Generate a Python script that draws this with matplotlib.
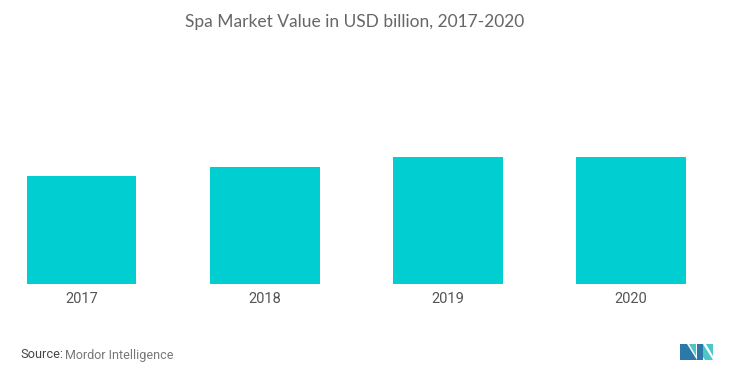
import matplotlib
matplotlib.use("Agg")
import matplotlib.pyplot as plt
from matplotlib.patches import Polygon

years = ["2017", "2018", "2019", "2020"]
values = [108.3, 117.3, 126.7, 127.3]

W, H = 730, 382
fig = plt.figure(figsize=(W / 100, H / 100), dpi=100)
fig.patch.set_facecolor("white")

ax = fig.add_axes([0, 1 - 284 / H, 1, 224 / H])
x = range(len(years))
ax.bar(x, values, width=0.6, color="#00CED1")
ax.set_xlim(-81.5 / 183.2, (W - 81.5) / 183.2)
ax.set_ylim(0, 224)
ax.set_xticks(list(x))
ax.set_xticklabels(years, fontsize=10.5, color="#555555", family="Roboto")
ax.tick_params(axis="x", length=0, pad=6)
ax.set_yticks([])
for s in ax.spines.values():
    s.set_visible(False)

fig.text(355 / W, 1 - 22 / H, "Spa Market Value in USD billion, 2017-2020",
         ha="center", va="center", fontsize=12.5, color="#666666", family="Lato")

fig.text(20 / W, 1 - 355 / H, "Source:", ha="left", va="center",
         fontsize=9.2, color="#444444", family="Roboto")
fig.text(65 / W, 1 - 355 / H, "Mordor Intelligence", ha="left", va="center",
         fontsize=9.0, color="#777777", family="Roboto")

# logo
def P(pts, c):
    fig.patches.append(Polygon([(px / W, 1 - py / H) for px, py in pts],
                               closed=True, transform=fig.transFigure,
                               facecolor=c, edgecolor="none"))
dark, teal = "#2C78A8", "#4CC6C8"
P([(680, 344), (687, 344), (697, 360), (680, 360)], dark)
P([(689, 344), (696, 344), (696, 356)], teal)
P([(697, 344), (703, 344), (703, 360), (697, 360)], dark)
P([(703, 344), (713, 360), (705, 360), (703, 357)], teal)
P([(706, 344), (713, 344), (713, 356)], teal)

fig.savefig("out.png", dpi=100)
